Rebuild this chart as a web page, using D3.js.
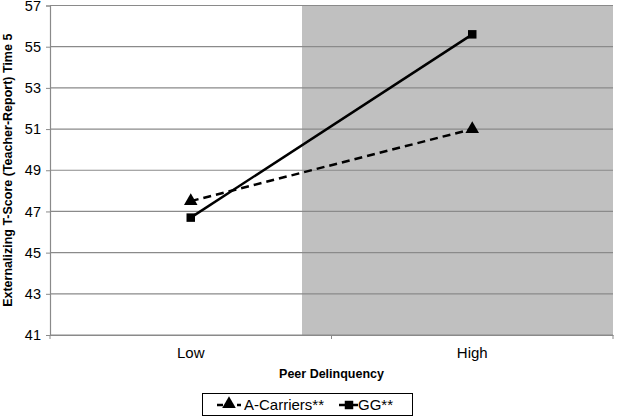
<!DOCTYPE html>
<html><head><meta charset="utf-8">
<script src="https://cdn.jsdelivr.net/npm/d3@7"></script>
<style>body{margin:0;background:#fff}svg{display:block}</style>
</head><body><svg id="c" width="617" height="418"></svg>
<script>
const categories = ["Low", "High"];
const seriesNames = ["A-Carriers**", "GG**"];
const aCarriers = [47.5, 51.0];
const gg = [46.7, 55.6];
const yTicks = [41, 43, 45, 47, 49, 51, 53, 55, 57];

const svg = d3.select("#c");
const L = 50, R = 613, T = 5.5, B = 335;
const x = d3.scaleBand().domain(categories).range([L, R]);
const y = d3.scaleLinear().domain([41, 57]).range([B, T]);
const font = "Liberation Sans, Arial, sans-serif";

// shaded region (high peer delinquency)
svg.append("rect").attr("x", 302).attr("y", y(57)).attr("width", R - 302).attr("height", y(41) - y(57)).attr("fill", "#c0c0c0");

// gridlines
svg.append("g").selectAll("line").data(yTicks).join("line")
  .attr("x1", L).attr("x2", R).attr("y1", d => y(d)).attr("y2", d => y(d))
  .attr("stroke", "#8a8a8a").attr("stroke-width", 1.2);

// y axis
const ya = svg.append("g").attr("transform", `translate(${L},0)`)
  .call(d3.axisLeft(y).tickValues(yTicks).tickSize(4).tickPadding(5));
ya.select(".domain").attr("stroke", "#8a8a8a").attr("stroke-width", 1.2);
ya.selectAll(".tick line").attr("stroke", "#8a8a8a");
ya.selectAll("text").attr("font-family", font).attr("font-size", 14.5).attr("fill", "#000");

// x axis
const xa = svg.append("g").attr("transform", `translate(0,${B})`)
  .call(d3.axisBottom(x).tickSize(0).tickPadding(12));
xa.select(".domain").attr("stroke", "#8a8a8a").attr("stroke-width", 1.2);
xa.selectAll("text").attr("font-family", font).attr("font-size", 15).attr("fill", "#000");
// boundary ticks
const bounds = [L, x("High"), R];
svg.append("g").selectAll("line").data(bounds).join("line")
  .attr("x1", d => d).attr("x2", d => d).attr("y1", B).attr("y2", B + 4)
  .attr("stroke", "#8a8a8a");

// titles
svg.append("text").attr("transform", `translate(12,${(T + B) / 2}) rotate(-90)`)
  .attr("text-anchor", "middle").attr("font-family", font).attr("font-weight", "bold")
  .attr("font-size", 12.5).text("Externalizing T-Score (Teacher-Report) Time 5");
svg.append("text").attr("x", (L + R) / 2).attr("y", 378)
  .attr("text-anchor", "middle").attr("font-family", font).attr("font-weight", "bold")
  .attr("font-size", 12.5).text("Peer Delinquency");

const cx = c => x(c) + x.bandwidth() / 2;
const line = d3.line().x((d, i) => cx(categories[i])).y(d => y(d));

svg.append("path").datum(aCarriers).attr("d", line).attr("fill", "none")
  .attr("stroke", "#000").attr("stroke-width", 2.5).attr("stroke-dasharray", "8,5");
svg.append("path").datum(gg).attr("d", line).attr("fill", "none")
  .attr("stroke", "#000").attr("stroke-width", 2.5);

const tri = d3.symbol().type(d3.symbolTriangle).size(80);
const sq = d3.symbol().type(d3.symbolSquare).size(72);
svg.append("g").selectAll("path").data(aCarriers).join("path")
  .attr("transform", (d, i) => `translate(${cx(categories[i])},${y(d)})`).attr("d", tri).attr("fill", "#000");
svg.append("g").selectAll("path").data(gg).join("path")
  .attr("transform", (d, i) => `translate(${cx(categories[i])},${y(d)})`).attr("d", sq).attr("fill", "#000");

// legend
const lg = svg.append("g");
lg.append("rect").attr("x", 202.5).attr("y", 393.5).attr("width", 210).attr("height", 22)
  .attr("fill", "#fff").attr("stroke", "#000").attr("stroke-width", 1);
const ly = 405;
lg.append("line").attr("x1", 217).attr("x2", 241).attr("y1", ly).attr("y2", ly)
  .attr("stroke", "#000").attr("stroke-width", 2.5).attr("stroke-dasharray", "6,4");
lg.append("path").attr("transform", `translate(229,${ly - 1})`).attr("d", tri).attr("fill", "#000");
lg.append("text").attr("x", 244).attr("y", ly + 5).attr("font-family", font).attr("font-size", 15).text(seriesNames[0]);
lg.append("line").attr("x1", 339).attr("x2", 358).attr("y1", ly).attr("y2", ly)
  .attr("stroke", "#000").attr("stroke-width", 2.5);
lg.append("path").attr("transform", `translate(349,${ly})`).attr("d", sq).attr("fill", "#000");
lg.append("text").attr("x", 358).attr("y", ly + 5).attr("font-family", font).attr("font-size", 15).text(seriesNames[1]);
</script></body></html>
